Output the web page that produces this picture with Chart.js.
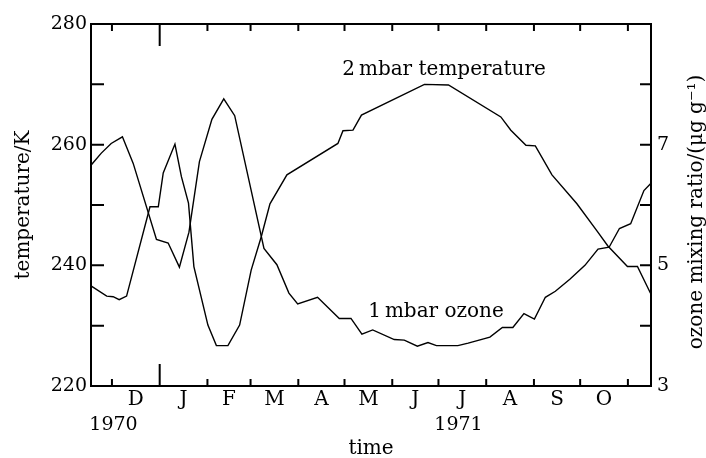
<!DOCTYPE html>
<html>
<head>
<meta charset="utf-8">
<script src="https://cdn.jsdelivr.net/npm/chart.js@4"></script>
<style>
  html, body { margin: 0; padding: 0; background: #fff; }
  #chart { display: block; }
</style>
</head>
<body>
<canvas id="chart" width="706" height="458"></canvas>
<script>
// days counted from 1 December
const monthLabels = ['D', 'J', 'F', 'M', 'A', 'M', 'J', 'J', 'A', 'S', 'O'];
const monthStarts = [0, 31, 62, 90, 121, 151, 182, 212, 243, 274, 304, 335];

// 2 mbar temperature (K)
const tempDays = [-13.6, -3.4, 0.8, 4.7, 9.5, 24.7, 30.1, 33.3, 40.9, 45.1, 49.7, 53.2, 62.3, 67.8, 75.3, 82.9, 90.4, 96.9, 102.6, 113.6, 146.7, 150.0, 156.5, 162.0, 202.9, 218.5, 252.5, 259.0, 268.8, 274.9, 285.7, 301.9, 314.9, 322.0, 334.7, 341.2, 350];
const tempK = [236.6, 234.9, 234.8, 234.3, 234.9, 249.7, 249.7, 255.3, 260.1, 254.7, 250.3, 239.8, 230.1, 226.7, 226.7, 230.1, 239.2, 244.7, 250.2, 255.0, 260.2, 262.3, 262.4, 264.9, 270.0, 269.9, 264.6, 262.4, 259.9, 259.8, 255.0, 250.2, 245.7, 243.2, 239.8, 239.8, 235.2];

// 1 mbar ozone mixing ratio (ug/g)
const ozoneDays = [-13.6, -6.9, -0.5, 6.8, 13.8, 28.9, 36.5, 43.8, 50.0, 56.8, 64.9, 72.6, 79.7, 98.7, 107.1, 114.9, 120.6, 133.5, 147.6, 155.2, 162.3, 169.3, 183.3, 189.8, 198.3, 205.2, 210.7, 224.6, 231.3, 245.4, 253.5, 260.3, 267.5, 274.3, 281.4, 287.9, 297.3, 307.1, 315.6, 322.8, 329.5, 336.8, 345.4, 350];
const ozoneRatio = [6.66, 6.86, 7.02, 7.13, 6.69, 5.43, 5.37, 4.97, 5.55, 6.72, 7.42, 7.76, 7.48, 5.28, 5.01, 4.54, 4.36, 4.47, 4.12, 4.12, 3.86, 3.93, 3.77, 3.76, 3.66, 3.72, 3.67, 3.67, 3.71, 3.81, 3.97, 3.97, 4.20, 4.11, 4.47, 4.57, 4.77, 5.00, 5.27, 5.30, 5.61, 5.69, 6.24, 6.36];

const tempTicks = [220, 240, 260, 280];
const tempMarks = [230, 240, 250, 260, 270];
const ozoneTicks = [3, 5, 7];
const ozoneMarks = [4, 5, 6, 7, 8];

const serif = "'DejaVu Serif', serif";

// tick labels sit in the middle of each month
const monthMids = monthLabels.map((m, i) => (monthStarts[i] + monthStarts[i + 1]) / 2);

// inward tick marks, frame and the free text
const frameTicks = {
    id: 'frameTicks',
    afterDatasetsDraw(chart) {
        const { ctx, chartArea: a, scales } = chart;
        ctx.save();
        ctx.strokeStyle = '#000';
        ctx.lineWidth = 2;
        ctx.strokeRect(a.left, a.top, a.right - a.left, a.bottom - a.top);
        ctx.beginPath();
        monthStarts.forEach((d, i) => {
            const x = scales.x.getPixelForValue(d);
            const len = i === 1 ? 22 : 7;
            ctx.moveTo(x, a.bottom); ctx.lineTo(x, a.bottom - len);
            ctx.moveTo(x, a.top); ctx.lineTo(x, a.top + len);
        });
        tempMarks.forEach(v => {
            const y = scales.y.getPixelForValue(v);
            ctx.moveTo(a.left, y); ctx.lineTo(a.left + 13, y);
        });
        ozoneMarks.forEach(v => {
            const y = scales.y2.getPixelForValue(v);
            ctx.moveTo(a.right, y); ctx.lineTo(a.right - 11, y);
        });
        ctx.stroke();

        ctx.fillStyle = '#000';
        ctx.font = '19px ' + serif;
        ctx.textAlign = 'center';
        ctx.textBaseline = 'middle';
        ctx.fillText('1970', scales.x.getPixelForValue(1), a.bottom + 39);
        ctx.fillText('1971', scales.x.getPixelForValue(225), a.bottom + 39);

        ctx.font = '20px ' + serif;
        ctx.textBaseline = 'alphabetic';
        ctx.fillText('2\u2009mbar temperature', scales.x.getPixelForValue(215.6), scales.y.getPixelForValue(271.5));
        ctx.fillText('1\u2009mbar ozone', scales.x.getPixelForValue(210.4), scales.y2.getPixelForValue(4.14));

        // right axis title reads bottom to top like the left one
        ctx.translate(697, (a.top + a.bottom) / 2 + 7);
        ctx.rotate(-Math.PI / 2);
        ctx.textBaseline = 'middle';
        ctx.fillText('ozone mixing ratio/(\u03bcg g\u207b\u00b9)', 0, 0);
        ctx.restore();
    }
};

const ctx = document.getElementById('chart').getContext('2d');
new Chart(ctx, {
    type: 'line',
    data: {
        datasets: [{
            label: '2 mbar temperature',
            data: tempDays.map((d, i) => ({ x: d, y: tempK[i] })),
            yAxisID: 'y',
            borderColor: '#000',
            borderWidth: 1.4,
            pointRadius: 0,
            tension: 0
        }, {
            label: '1 mbar ozone',
            data: ozoneDays.map((d, i) => ({ x: d, y: ozoneRatio[i] })),
            yAxisID: 'y2',
            borderColor: '#000',
            borderWidth: 1.4,
            pointRadius: 0,
            tension: 0
        }]
    },
    options: {
        responsive: false,
        devicePixelRatio: 1,
        animation: false,
        layout: { padding: { top: 24, left: 0, right: 0, bottom: 0 } },
        plugins: { legend: { display: false }, tooltip: { enabled: false } },
        scales: {
            x: {
                type: 'linear',
                min: -13.6,
                max: 350,
                grid: { display: false, drawTicks: false },
                border: { display: false },
                afterBuildTicks: s => { s.ticks = monthMids.map(v => ({ value: v })); },
                afterFit: s => { s.height = 72; },
                ticks: {
                    autoSkip: false,
                    maxRotation: 0,
                    padding: 2,
                    color: '#000',
                    font: { family: serif, size: 20 },
                    callback: (v, i) => monthLabels[i]
                },
                title: {
                    display: true,
                    text: 'time',
                    color: '#000',
                    font: { family: serif, size: 20, lineHeight: 0.9 },
                    padding: 0
                }
            },
            y: {
                position: 'left',
                min: 220,
                max: 280,
                grid: { display: false, drawTicks: false },
                border: { display: false },
                afterBuildTicks: s => { s.ticks = tempTicks.map(v => ({ value: v })); },
                afterFit: s => { s.width = 91; },
                ticks: {
                    padding: 4,
                    color: '#000',
                    font: { family: serif, size: 19 }
                },
                title: {
                    display: true,
                    text: 'temperature/K',
                    color: '#000',
                    font: { family: serif, size: 20, lineHeight: 1.2 },
                    padding: { top: 12, bottom: 0 }
                }
            },
            y2: {
                position: 'right',
                min: 3,
                max: 9,
                grid: { display: false, drawTicks: false },
                border: { display: false },
                afterBuildTicks: s => { s.ticks = ozoneTicks.map(v => ({ value: v })); },
                afterFit: s => { s.width = 55; },
                ticks: {
                    padding: 6,
                    color: '#000',
                    font: { family: serif, size: 19 }
                }
            }
        }
    },
    plugins: [frameTicks]
});
</script>
</body>
</html>
